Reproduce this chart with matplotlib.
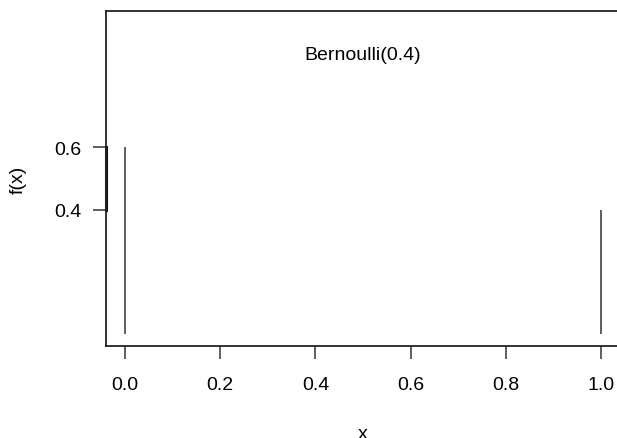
import matplotlib.pyplot as plt

# donnees de la loi de Bernoulli(0.4)
x = [0, 1]
fx = [0.6, 0.4]
xticks = [0.0, 0.2, 0.4, 0.6, 0.8, 1.0]
yticks = [0.4, 0.6]
titre = 'Bernoulli(0.4)'

plt.rcParams['font.family'] = ['Liberation Sans', 'DejaVu Sans']

fig = plt.figure(figsize=(6.17, 4.39), dpi=100)
# axes qui depasse a droite (image coupee)
ax = fig.add_axes([106/617, (439-347)/439, 514/617, 335/439])

ax.vlines(x, 0, fx, colors='#333333', linewidth=1.1)
ax.text(0.5, 0.9, titre, ha='center', va='center', fontsize=14)

ax.set_xlim(-0.04, 1.04)
ax.set_ylim(-0.04, 1.04)
ax.set_xticks(xticks)
ax.set_xticklabels(['%.1f' % v for v in xticks])
ax.set_yticks(yticks)
ax.set_yticklabels(['%.1f' % v for v in yticks])
ax.tick_params(axis='both', direction='out', length=9.5, width=1.1, color='#333333',
               labelsize=14, pad=12)
ax.tick_params(axis='y', pad=8)

for s in ax.spines.values():
    s.set_linewidth(1.3)
    s.set_color('#222222')

# ligne d'axe entre les graduations (comme R)
ax.plot([0, 0], [min(yticks), max(yticks)], color='#111111', linewidth=2.2,
        transform=ax.get_yaxis_transform(), clip_on=False)

ax.set_xlabel('x', fontsize=14)
ax.xaxis.set_label_coords(0.5, -0.235)
ax.set_ylabel('f(x)', fontsize=14)
ax.yaxis.set_label_coords(-0.155, 0.5)

fig.savefig('out.png', dpi=100)
